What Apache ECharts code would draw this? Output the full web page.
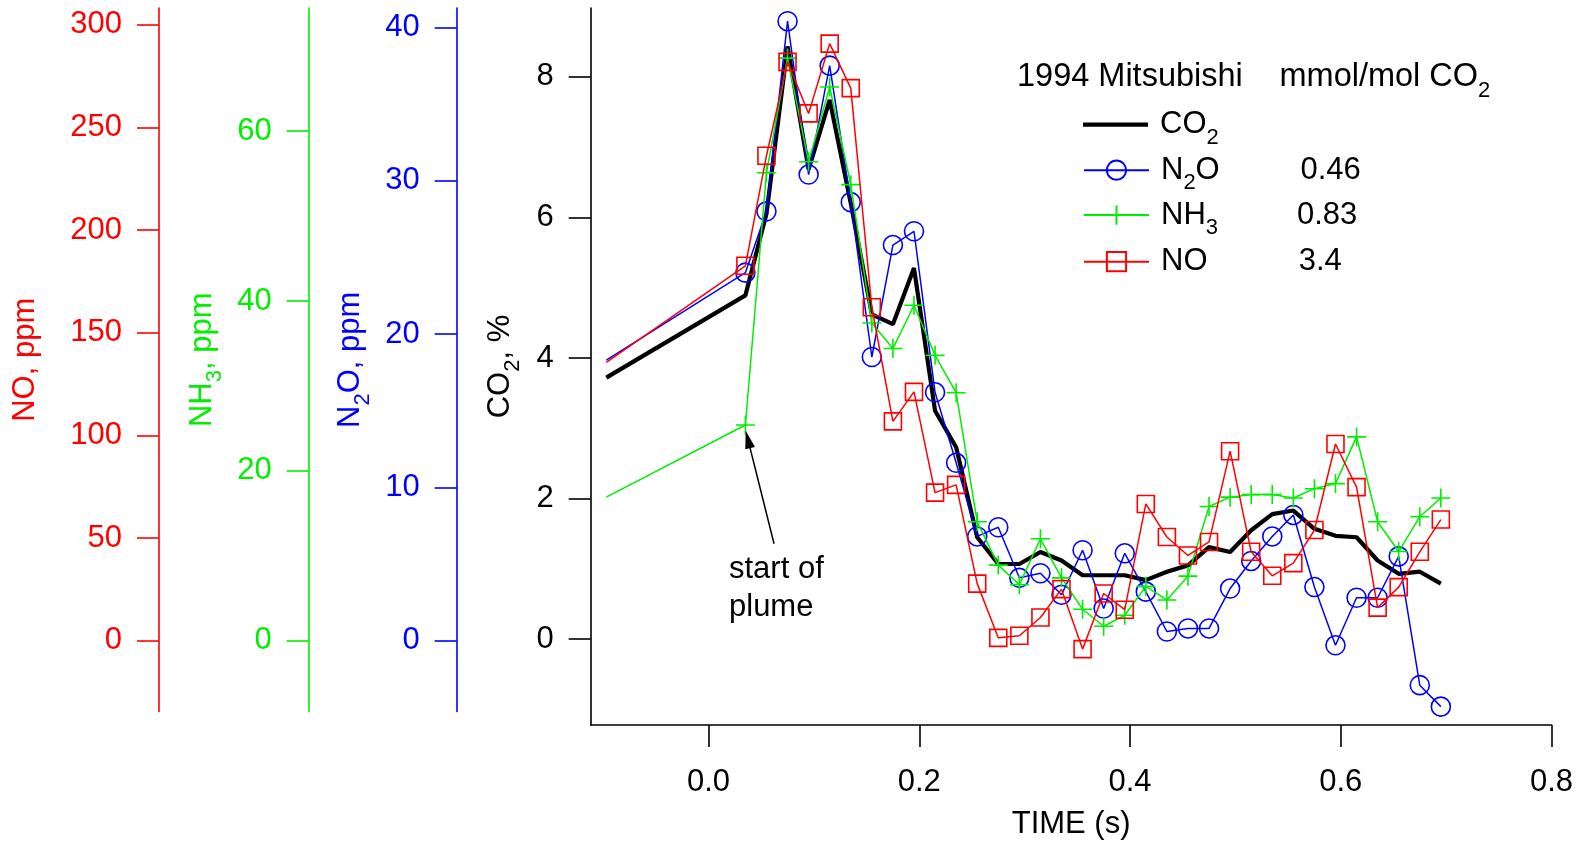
<!DOCTYPE html>
<html><head><meta charset="utf-8">
<script src="https://cdn.jsdelivr.net/npm/echarts@6/dist/echarts.min.js"></script>
<style>html,body{margin:0;padding:0;background:#fff}#c{width:1587px;height:845px}</style>
</head><body><div id="c"></div>
<script>
// ---- data ----
const times = [-0.097,0.035,0.055,0.075,0.095,0.115,0.135,0.155,0.175,0.195,0.215,0.235,0.255,0.275,0.295,0.315,0.335,0.355,0.375,0.395,0.415,0.435,0.455,0.475,0.495,0.515,0.535,0.555,0.575,0.595,0.615,0.635,0.655,0.675,0.695];
const co2 = [3.72,4.89,6.05,8.43,6.68,7.67,6.2,4.62,4.48,5.28,3.25,2.73,1.45,1.07,1.07,1.24,1.12,0.91,0.91,0.91,0.84,0.96,1.05,1.31,1.24,1.55,1.78,1.83,1.57,1.47,1.45,1.12,0.93,0.96,0.79];
const n2o = [18.3,24.0,28.0,40.4,30.4,37.5,28.6,18.5,25.8,26.7,16.2,11.6,6.8,7.4,4.1,4.4,3.0,5.9,2.1,5.7,3.2,0.6,0.8,0.8,3.4,5.2,6.8,8.2,3.5,-0.3,2.8,2.8,5.5,-2.9,-4.3];
const nh3 = [16.9,25.4,55.1,68.6,56.4,65.2,53.7,37.4,34.4,39.5,33.6,29.2,14.0,8.9,6.6,12.0,7.4,3.7,1.7,3.0,6.4,4.8,7.6,15.8,16.9,17.2,17.2,16.8,17.9,18.5,24.0,14.0,10.5,14.6,16.8];
const no = [135.6,182.6,236.2,281.9,256.8,290.8,269.1,162.4,106.8,121.2,72.1,75.9,27.8,1.4,2.4,11.3,25.1,-4.1,23.0,15.1,66.6,50.5,41.5,48.1,92.3,43.3,31.6,37.8,53.9,95.8,74.8,16.1,26.1,43.3,59.0];

const xTicks = [0,0.2,0.4,0.6,0.8];
const co2Ticks = [0,2,4,6,8];
const n2oTicks = [0,10,20,30,40];
const nh3Ticks = [0,20,40,60];
const noTicks = [0,50,100,150,200,250,300];

const legendNames = ['CO2','N2O','NH3','NO'];
const legendLabels = {CO2:'CO{s|2}', N2O:'N{s|2}O', NH3:'NH{s|3}', NO:'NO{s| }'};
const ratioLabels = ['0.46','0.83','3.4'];
const titleText = '1994 Mitsubishi';
const unitText = 'mmol/mol CO{s|2}';
const annotLines = ['start of','plume'];

// ---- styling ----
const FONT = '"Liberation Sans", Arial, Helvetica, sans-serif';
const FS = 31;
const RED = '#ff0000', GREEN = '#00ee00', BLUE = '#0000ff', BLACK = '#000000';
function sub(color){ return { s: { fontSize: 22, lineHeight: 31, padding: [26,0,0,0], fontFamily: FONT, color: color } }; }
// first sample (before the plume) is drawn without a marker
const zip = (a) => times.map((t,i)=> i===0 ? {value:[t,a[i]], symbol:'none'} : [t,a[i]]);

function yAxis(o){
  return {
    type:'value', gridIndex:o.grid, position:'left', offset:o.offset, min:o.min, max:o.max,
    axisLine:{show:true, onZero:false, lineStyle:{color:o.color, width:1.6}},
    axisTick:{show:true, length:22, customValues:o.ticks, lineStyle:{color:o.color, width:1.6}},
    axisLabel:{show:true, customValues:o.ticks, margin:37, fontSize:FS, fontFamily:FONT, color:o.color},
    splitLine:{show:false},
    name:o.name, nameLocation:'middle', nameGap:o.gap,
    nameTextStyle:{fontSize:FS, lineHeight:31, fontFamily:FONT, color:o.color, rich:sub(o.color)}
  };
}
function legendFor(name, top, icon){
  return {
    orient:'vertical', left:1083, top:top, padding:0, itemWidth:65, itemHeight:24,
    selectedMode:false,
    data:[icon ? {name:name, icon:icon} : name],
    formatter:n=>legendLabels[n],
    textStyle:{fontSize:FS, lineHeight:31, fontFamily:FONT, color:BLACK, padding:[0,0,0,7], rich:sub(BLACK)}
  };
}

const plus = 'path://M10,0V20M0,10H20';
const chart = echarts.init(document.getElementById('c'), null, {renderer:'canvas'});
chart.setOption({
  animation:false,
  backgroundColor:'#fff',
  grid:[
    {left:590.7, right:35.5, top:8, bottom:118.3, containLabel:false},
    {left:590.7, right:35.5, top:8, bottom:133.5, containLabel:false}
  ],
  xAxis:[
    {type:'value', gridIndex:0, min:-0.1118, max:0.8,
     axisLine:{onZero:false, lineStyle:{color:BLACK, width:1.6}},
     axisTick:{show:true, length:22, customValues:xTicks, lineStyle:{color:BLACK, width:1.6}},
     axisLabel:{customValues:xTicks, formatter:v=>v.toFixed(1), margin:42, fontSize:FS, fontFamily:FONT, color:BLACK},
     splitLine:{show:false},
     name:'TIME (s)', nameLocation:'middle', nameGap:84,
     nameTextStyle:{fontSize:FS, fontFamily:FONT, color:BLACK}},
    {type:'value', gridIndex:1, min:-0.1118, max:0.8, show:false, splitLine:{show:false}}
  ],
  yAxis:[
    yAxis({grid:0, offset:0, min:-1.220, max:8.977, color:BLACK, ticks:co2Ticks, name:'CO{s|2}, %', gap:75}),
    yAxis({grid:1, offset:134, min:-4.617, max:41.26, color:BLUE, ticks:n2oTicks, name:'N{s|2}O, ppm', gap:78}),
    yAxis({grid:1, offset:282, min:-8.337, max:74.50, color:GREEN, ticks:nh3Ticks, name:'NH{s|3}, ppm', gap:85}),
    yAxis({grid:1, offset:431.7, min:-34.48, max:308.14, color:RED, ticks:noTicks, name:'NO, ppm', gap:117.6})
  ],
  legend:[
    legendFor('CO2', 100.7, 'path://M0,0H65V4.2H0Z'),
    legendFor('N2O', 146.2),
    legendFor('NH3', 191.1),
    legendFor('NO', 237.7)
  ],
  series:[
    {name:legendNames[0], type:'line', xAxisIndex:0, yAxisIndex:0, data:zip(co2), symbol:'none',
     lineStyle:{color:BLACK, width:4.2}, itemStyle:{color:BLACK}, z:2,
     markLine:{silent:true, symbol:['none','path://M5,0L10,18L0,18Z'], symbolSize:18, symbolKeepAspect:true,
       label:{show:false}, lineStyle:{color:BLACK, width:1.5, type:'solid'},
       data:[[{coord:[0.0622,1.357]},{coord:[0.0374,2.842]}]]}},
    {name:legendNames[1], type:'line', xAxisIndex:1, yAxisIndex:1, data:zip(n2o), symbol:'circle', symbolSize:19,
     lineStyle:{color:BLUE, width:1.5}, itemStyle:{color:'rgba(0,0,0,0)', borderColor:BLUE, borderWidth:1.6}, z:3},
    {name:legendNames[2], type:'line', xAxisIndex:1, yAxisIndex:2, data:zip(nh3), symbol:plus, symbolSize:19,
     lineStyle:{color:GREEN, width:1.5}, itemStyle:{color:'rgba(0,0,0,0)', borderColor:GREEN, borderWidth:1.6}, z:4},
    {name:legendNames[3], type:'line', xAxisIndex:1, yAxisIndex:3, data:zip(no), symbol:'rect', symbolSize:17,
     lineStyle:{color:RED, width:1.5}, itemStyle:{color:'rgba(0,0,0,0)', borderColor:RED, borderWidth:1.6}, z:5}
  ],
  graphic:{elements:[
    {type:'text', x:1017, y:77.5, style:{text:titleText, fontSize:32.5, fontFamily:FONT, fill:BLACK, verticalAlign:'middle'}},
    {type:'text', x:1279.5, y:77.5, style:{text:unitText, fontSize:32.5, lineHeight:31, fontFamily:FONT, fill:BLACK, verticalAlign:'middle', rich:sub(BLACK)}},
    {type:'text', x:1300.4, y:170.5, style:{text:ratioLabels[0], fontSize:FS, fontFamily:FONT, fill:BLACK, verticalAlign:'middle'}},
    {type:'text', x:1297, y:215.2, style:{text:ratioLabels[1], fontSize:FS, fontFamily:FONT, fill:BLACK, verticalAlign:'middle'}},
    {type:'text', x:1298.7, y:261.5, style:{text:ratioLabels[2], fontSize:FS, fontFamily:FONT, fill:BLACK, verticalAlign:'middle'}},
    {type:'text', x:729, y:569, style:{text:annotLines[0], fontSize:FS, fontFamily:FONT, fill:BLACK, verticalAlign:'middle'}},
    {type:'text', x:729, y:607.5, style:{text:annotLines[1], fontSize:FS, fontFamily:FONT, fill:BLACK, verticalAlign:'middle'}}
  ]}
});
</script>
</body></html>
